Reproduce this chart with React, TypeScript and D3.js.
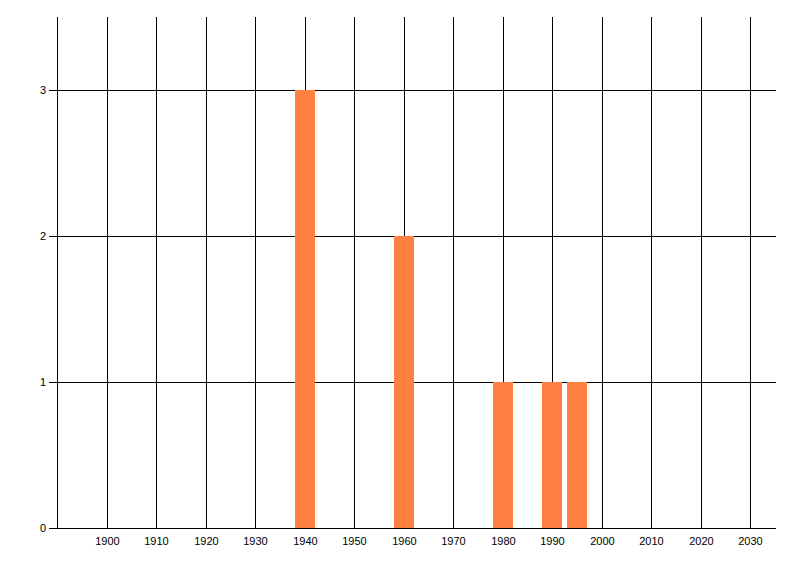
import React from "react";
import * as d3 from "d3";

const years = [1940, 1960, 1980, 1990, 1995];
const counts = [3, 2, 1, 1, 1];
const xTicks = [1900, 1910, 1920, 1930, 1940, 1950, 1960, 1970, 1980, 1990, 2000, 2010, 2020, 2030];
const yTicks = [0, 1, 2, 3];

export default function App() {
  const W = 800, H = 576;
  const left = 57, right = 776, top = 17, bottom = 528;
  const x = d3.scaleLinear().domain([1900, 2030]).range([107.5, 750.5]);
  const y = d3.scaleLinear().domain([0, 3.5]).range([bottom, top]);
  const barYears = 4.04;
  const bw = Math.round(x(barYears) - x(0));
  const font = "'Liberation Sans', Arial, sans-serif";
  return (
    <svg width={W} height={H} style={{ position: "absolute", left: 0, top: 0, background: "#fff" }}>
      <rect width={W} height={H} fill="#fff" />
      {xTicks.map((t) => (
        <line key={"gx" + t} x1={Math.floor(x(t)) + 0.5} x2={Math.floor(x(t)) + 0.5} y1={top} y2={bottom} stroke="#000" strokeWidth={1} />
      ))}
      <line x1={left + 0.5} x2={left + 0.5} y1={top} y2={bottom} stroke="#000" />
      {yTicks.map((t) => (
        <g key={"gy" + t}>
          <line x1={49} x2={right} y1={Math.round(y(t)) + 0.5} y2={Math.round(y(t)) + 0.5} stroke="#000" />
          <text x={46} y={y(t)} dy="0.35em" textAnchor="end" fontFamily={font} fontSize={11} fill="#000">{t}</text>
        </g>
      ))}
      {years.map((yr, i) => (
        <rect key={"b" + yr} x={Math.floor(x(yr)) - bw / 2} width={bw}
          y={Math.round(y(counts[i]))} height={Math.round(y(0)) - Math.round(y(counts[i]))} fill="#FF8041" />
      ))}
      {xTicks.map((t) => (
        <text key={"lx" + t} x={Math.floor(x(t)) + 0.5} y={545} textAnchor="middle" fontFamily={font} fontSize={11} fill="#000">{t}</text>
      ))}
    </svg>
  );
}
